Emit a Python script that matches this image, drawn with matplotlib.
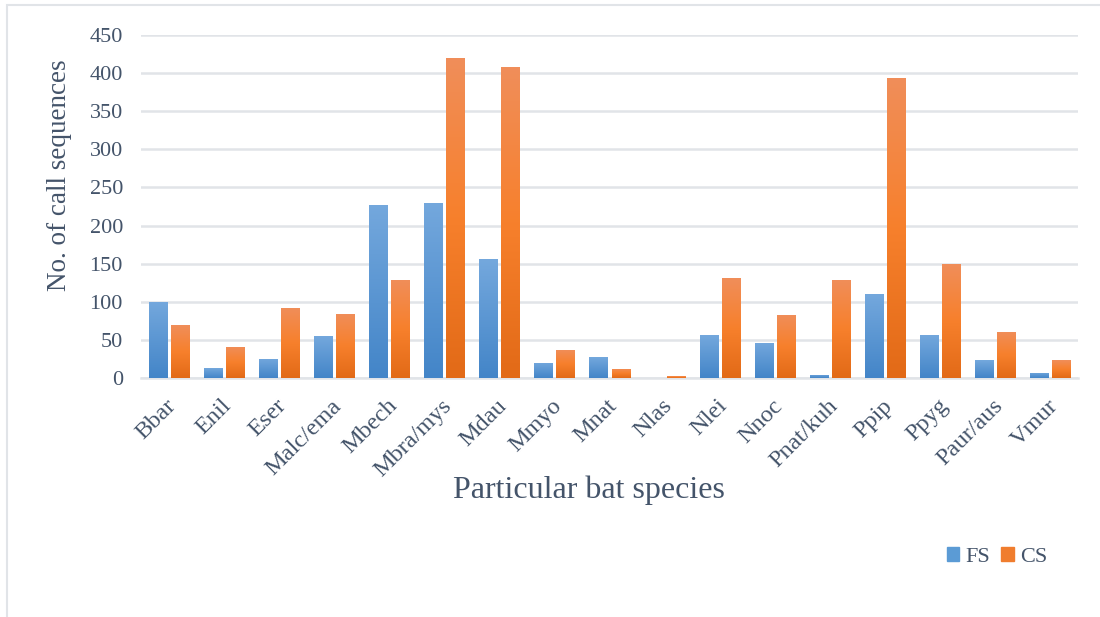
import matplotlib
matplotlib.use("Agg")
import matplotlib.pyplot as plt
import matplotlib.transforms as mtransforms
from matplotlib.colors import LinearSegmentedColormap
from matplotlib.patches import Rectangle
import numpy as np

species = ["Bbar", "Enil", "Eser", "Malc/ema", "Mbech", "Mbra/mys", "Mdau", "Mmyo",
           "Mnat", "Nlas", "Nlei", "Nnoc", "Pnat/kuh", "Ppip", "Ppyg", "Paur/aus", "Vmur"]
fs = [100, 13, 25, 55, 227, 230, 156, 20, 27, 0, 56, 46, 4, 110, 57, 23, 7]
cs = [69, 41, 92, 84, 129, 420, 408, 37, 12, 2, 131, 83, 129, 394, 150, 61, 23]
yticks = [0, 50, 100, 150, 200, 250, 300, 350, 400, 450]

TEXT = "#44546A"
GRID = "#E1E4E8"
plt.rcParams['font.family'] = ['Liberation Serif', 'DejaVu Serif']

fig = plt.figure(figsize=(11, 6.17), dpi=100)
# light outer frame (only left and top edges visible in the crop)
fig.patches.append(Rectangle((7 / 1100, -0.1), 1.2, 1 - 5 / 617 + 0.1, transform=fig.transFigure,
                             fill=False, edgecolor=GRID, lw=1.5))
ax = fig.add_axes([141 / 1100, 1 - 378 / 617, (1078 - 141) / 1100, (378 - 35) / 617])

blue = LinearSegmentedColormap.from_list("b", ["#4385C8", "#74A8DD"])
orange = LinearSegmentedColormap.from_list("o", ["#E26A17", "#F7802C", "#F08E5A"])
grad = np.linspace(0, 1, 256).reshape(-1, 1)

x = np.arange(len(species))
w = 0.327
off = 0.2
for vals, dx, cmap in [(fs, -off, blue), (cs, off, orange)]:
    bars = ax.bar(x + dx, vals, w, color="none", edgecolor="none", zorder=3)
    for b in bars:
        h = b.get_height()
        if h <= 0:
            continue
        x0 = b.get_x()
        im = ax.imshow(grad, cmap=cmap, aspect="auto", origin="lower",
                       extent=[x0, x0 + w, 0, h], zorder=3)
        im.set_clip_path(b)

ax.set_xlim(-0.5, len(species) - 0.5)
ax.set_ylim(0, 450)
ax.set_yticks(yticks)
ax.set_yticklabels([str(t) for t in yticks])
ax.yaxis.grid(True, color=GRID, lw=1.8, zorder=0)
ax.set_axisbelow(True)
for s in ["top", "right", "left"]:
    ax.spines[s].set_visible(False)
ax.spines["bottom"].set_color(GRID)
ax.spines["bottom"].set_linewidth(1.8)
ax.tick_params(axis="both", length=0, colors=TEXT)
ax.tick_params(axis="y", pad=13, labelsize=16)
ax.tick_params(axis="x", labelsize=17.5)

ax.set_xticks(x)
ax.set_xticklabels(species, rotation=45, ha="right", va="top", rotation_mode="anchor")
shift = mtransforms.ScaledTranslation(-2 / 72, -9 / 72, fig.dpi_scale_trans)
for lab in ax.get_xticklabels():
    lab.set_transform(lab.get_transform() + shift)

fig.text(589 / 1100, 1 - 490 / 617, "Particular bat species", ha="center", va="center",
         fontsize=23, color=TEXT)
fig.text(60 / 1100, 1 - 175 / 617, "No. of call sequences", ha="center", va="center",
         rotation=90, fontsize=19.5, color=TEXT)

handles = [Rectangle((0, 0), 1, 1, color="#5B9BD5"), Rectangle((0, 0), 1, 1, color="#F07D2E")]
fig.legend(handles, ["FS", "CS"], loc="center", bbox_to_anchor=(997 / 1100, 1 - 557 / 617),
           ncol=2, frameon=False, fontsize=16, handlelength=0.55, handleheight=0.55,
           handletextpad=0.3, columnspacing=0.5, labelcolor=TEXT)

fig.savefig("out.png", dpi=100)
